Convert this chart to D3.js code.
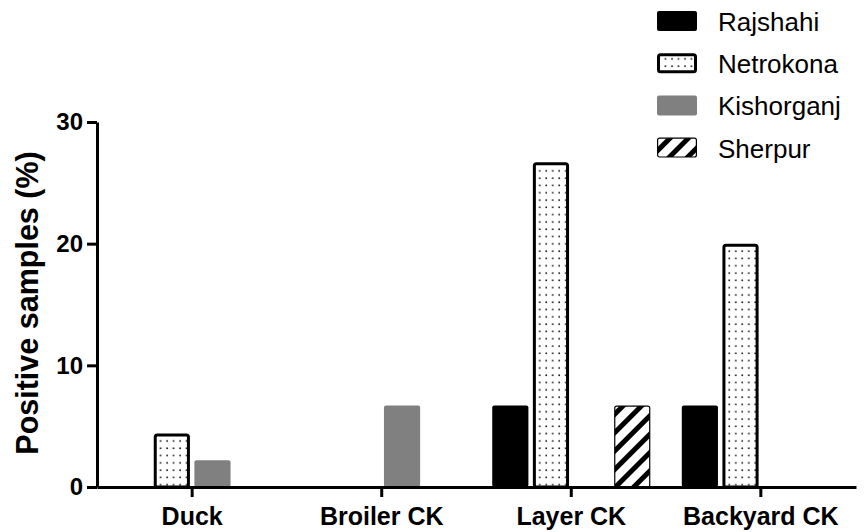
<!DOCTYPE html>
<html>
<head>
<meta charset="utf-8">
<script src="https://cdn.jsdelivr.net/npm/d3@7"></script>
<style>
  body { margin: 0; background: #fff; }
  svg { display: block; font-family: "Liberation Sans", Arial, sans-serif; }
</style>
</head>
<body>
<div id="container"></div>
<script>
// ------ Data ------
const categories = ['Duck', 'Broiler CK', 'Layer CK', 'Backyard CK'];
const series = ['Rajshahi', 'Netrokona', 'Kishorganj', 'Sherpur'];
// values per category, in series order (0 = no bar)
const rajshahi   = [0,   0,   6.7,  6.7];
const netrokona  = [4.4, 0,   26.7, 20];
const kishorganj = [2.2, 6.7, 0,    0];
const sherpur    = [0,   0,   6.7,  0];
const yTicks = [0, 10, 20, 30];

const values = [rajshahi, netrokona, kishorganj, sherpur];

// ------ Global Values ------
const width = 868,
  height = 532;

const svg = d3.select('#container').append('svg')
  .attr('width', width)
  .attr('height', height);

const defs = svg.append('defs');

// dotted fill
const dots = defs.append('pattern')
  .attr('id', 'dots')
  .attr('patternUnits', 'userSpaceOnUse')
  .attr('width', 6.5).attr('height', 7.3);
dots.append('rect').attr('width', 6.5).attr('height', 7.3).attr('fill', '#fff');
dots.append('circle').attr('cx', 2).attr('cy', 3).attr('r', 0.9).attr('fill', '#111');

// diagonal hatch
const hatch = defs.append('pattern')
  .attr('id', 'hatch')
  .attr('patternUnits', 'userSpaceOnUse')
  .attr('width', 13).attr('height', 13)
  .attr('patternTransform', 'rotate(45)');
hatch.append('rect').attr('width', 13).attr('height', 13).attr('fill', '#fff');
hatch.append('rect').attr('x', 0).attr('width', 5).attr('height', 13).attr('fill', '#000');

const styles = {
  Rajshahi:   { fill: '#000', stroke: '#000', sw: 0 },
  Netrokona:  { fill: 'url(#dots)', stroke: '#000', sw: 3 },
  Kishorganj: { fill: '#808080', stroke: 'none', sw: 0 },
  Sherpur:    { fill: 'url(#hatch)', stroke: '#000', sw: 1.2 }
};

const x = d3.scaleBand()
  .domain(categories)
  .range([97, 856])
  .paddingInner(0.166)
  .paddingOuter(0.085);

const xs = d3.scaleBand()
  .domain(series)
  .range([0, x.bandwidth()])
  .paddingInner(0.11);

const y = d3.scaleLinear()
  .domain([0, 30])
  .range([487, 122]);

// bars
const groups = svg.append('g').attr('id', 'bars')
  .selectAll('g').data(categories)
  .enter().append('g')
  .attr('transform', d => `translate(${x(d)},0)`);

groups.selectAll('rect')
  .data((c, ci) => series.map((s, si) => ({ s, v: values[si][ci] })).filter(d => d.v > 0))
  .enter().append('rect')
  .attr('x', d => xs(d.s) + styles[d.s].sw / 2)
  .attr('y', d => y(d.v) + styles[d.s].sw / 2)
  .attr('width', d => xs.bandwidth() - styles[d.s].sw)
  .attr('height', d => y(0) - y(d.v) - styles[d.s].sw / 2)
  .attr('rx', 2)
  .attr('fill', d => styles[d.s].fill)
  .attr('stroke', d => styles[d.s].stroke)
  .attr('stroke-width', d => styles[d.s].sw);

// axes
const xAxis = svg.append('g')
  .attr('transform', `translate(0,${y(0)})`)
  .call(d3.axisBottom(x).tickSize(10).tickSizeOuter(0));
xAxis.select('.domain').attr('stroke-width', 3);
xAxis.selectAll('.tick line').attr('stroke-width', 3);
xAxis.selectAll('.tick text')
  .attr('y', 20)
  .attr('dy', '0.71em')
  .style('font-size', '25px')
  .style('font-weight', 'bold')
  .style('font-family', '"Liberation Sans", Arial, sans-serif')
  .attr('fill', '#000');

const yAxis = svg.append('g')
  .attr('transform', 'translate(97,0)')
  .call(d3.axisLeft(y).tickValues(yTicks).tickSize(10).tickSizeOuter(0));
yAxis.select('.domain').attr('stroke-width', 3);
yAxis.selectAll('.tick line').attr('stroke-width', 3);
yAxis.selectAll('.tick text')
  .attr('x', -14)
  .style('font-size', '24px')
  .style('font-weight', 'bold')
  .style('font-family', '"Liberation Sans", Arial, sans-serif')
  .attr('fill', '#000');

svg.append('text')
  .attr('transform', 'rotate(-90)')
  .attr('x', -303)
  .attr('y', 38)
  .attr('text-anchor', 'middle')
  .style('font-size', '30.5px')
  .style('font-weight', 'bold')
  .text('Positive samples (%)');

// legend
const legend = svg.append('g').attr('id', 'legend')
  .selectAll('g').data(series)
  .enter().append('g')
  .attr('transform', (d, i) => `translate(657,${21 + i * 42.2})`);

legend.append('rect')
  .attr('x', d => styles[d].sw / 2)
  .attr('y', d => -10 + styles[d].sw / 2)
  .attr('width', d => 40 - styles[d].sw)
  .attr('height', d => 20 - styles[d].sw)
  .attr('rx', 2)
  .attr('fill', d => styles[d].fill)
  .attr('stroke', d => styles[d].stroke)
  .attr('stroke-width', d => styles[d].sw);

legend.append('text')
  .attr('x', 61)
  .attr('y', 10)
  .style('font-size', '26px')
  .text(d => d);
</script>
</body>
</html>
